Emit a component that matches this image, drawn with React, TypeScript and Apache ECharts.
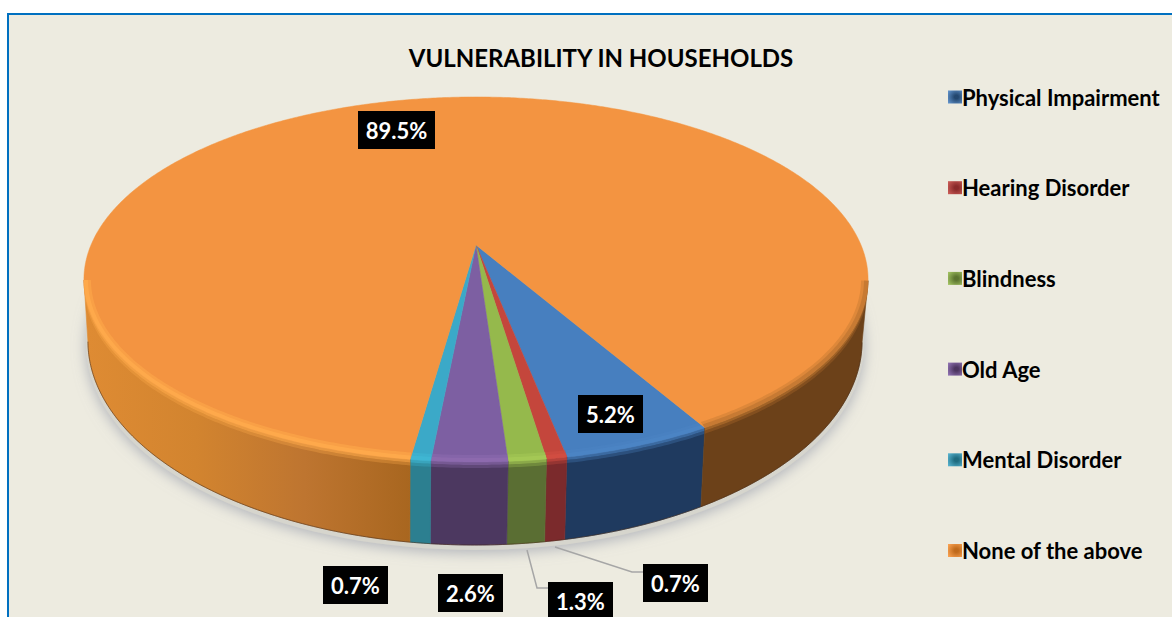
import React, { useEffect, useRef } from "react";
import * as echarts from "echarts";

const titleText = "VULNERABILITY IN HOUSEHOLDS";
const categories = ["Physical Impairment", "Hearing Disorder", "Blindness", "Old Age", "Mental Disorder", "None of the above"];
const shares = [5.2, 0.7, 1.3, 2.6, 0.7, 89.5];

const topColors = ["#477FBF", "#C4463C", "#95B94C", "#7D5FA2", "#3BA9C8", "#F39441"];
const rimColors = ["#4C84C4", "#D24E42", "#A6C956", "#8E6CAF", "#40B8D4", "#FFAB4C"];
const rimRight = "#B8722E";
const sideColors = ["#1F3A5F", "#7B2A2C", "#5A6E33", "#4C3860", "#2C7F90", "#6C4119"];
const sideLeftStops = ["#DE8B33", "#D2842F", "#BE7530", "#A8661F"];
const legendEdge = ["#5F90C8", "#C85A55", "#A0C060", "#8E70B0", "#55B0CC", "#F8A050"];
const legendCore = ["#23476F", "#8A2A2A", "#5C7430", "#4C3560", "#1F6C80", "#C06A1C"];

const APEX = { x: 476, y: 245 };
const TOP = { cx: 476, cy: 279.5, rx: 392, ry: 182.5 };
const BOTTOM = { cx: 475, cy: 341, rx: 387, ry: 204 };
const PERSPECTIVE = { k: 0.189, a: 176, b: 385 };
const START_DEG = 29.8;

const labelBoxes = [
  { x: 578, y: 395, w: 65, h: 38 },
  { x: 643, y: 564, w: 65, h: 38 },
  { x: 548, y: 582, w: 65, h: 38 },
  { x: 438, y: 574, w: 65, h: 38 },
  { x: 323, y: 566, w: 65, h: 38 },
  { x: 358, y: 111, w: 77, h: 38 },
];
const leaders: (number[][] | null)[] = [
  null,
  [[555, 547], [632, 572], [643, 572]],
  [[527, 550], [537, 588], [548, 588]],
  null,
  null,
  null,
];

const FONT = "Lato, 'Open Sans', sans-serif";

function rimPoint(deg: number) {
  const t = (deg * Math.PI) / 180;
  const { k, a, b } = PERSPECTIVE;
  const d = 1 - k * Math.cos(t);
  return { x: APEX.x + (b * Math.sin(t)) / d, y: APEX.y + (a * Math.cos(t)) / d };
}
function phiOf(p: { x: number; y: number }) {
  return { s: (p.x - TOP.cx) / TOP.rx, c: (p.y - TOP.cy) / TOP.ry };
}
function inset(p: { x: number; y: number }, w: number): number[] {
  const { s, c } = phiOf(p);
  return [TOP.cx + (TOP.rx - w) * s, TOP.cy + (TOP.ry - w) * c];
}
function bottomOf(p: { x: number; y: number }): number[] {
  const { s, c } = phiOf(p);
  return [BOTTOM.cx + BOTTOM.rx * s, BOTTOM.cy + BOTTOM.ry * c];
}
function sample(from: number, to: number) {
  const n = Math.max(4, Math.ceil(Math.abs(to - from) / 0.5));
  const pts = [];
  for (let i = 0; i <= n; i++) pts.push(rimPoint(from + ((to - from) * i) / n));
  return pts;
}
function frontRuns(pts: { x: number; y: number }[]) {
  const runs: { x: number; y: number }[][] = [];
  let cur: { x: number; y: number }[] = [];
  pts.forEach((p) => {
    if (phiOf(p).c >= 0) cur.push(p);
    else if (cur.length) {
      runs.push(cur);
      cur = [];
    }
  });
  if (cur.length) runs.push(cur);
  return runs;
}

function makeRenderItem(index: number) {
  return (_params: any, api: any) => {
    const value = api.value(0);
    const before = shares.slice(0, index).reduce((a, b) => a + b, 0);
    const from = START_DEG - before * 3.6;
    const to = from - value * 3.6;
    const rim = sample(from, to);
    const children: any[] = [];

    frontRuns(rim).forEach((run) => {
      const isRight = phiOf(run[0]).s > 0.3;
      const isOrange = index === 5;
      const bottom = run.map(bottomOf);
      let fill: any = sideColors[index];
      if (isOrange && !isRight) {
        fill = {
          type: "linear",
          x: 88,
          y: 0,
          x2: 412,
          y2: 0,
          global: true,
          colorStops: sideLeftStops.map((color, i) => ({ offset: i / (sideLeftStops.length - 1), color })),
        };
      }
      children.push({
        type: "polygon",
        shape: { points: [...run.map((p) => [p.x, p.y]), ...bottom.slice().reverse()] },
        style: { fill, stroke: fill, lineWidth: 0.6 },
      });
      children.push({
        type: "polyline",
        shape: { points: bottom },
        style: { fill: "none", stroke: "rgba(70,40,20,0.55)", lineWidth: 1 },
      });
    });

    children.push({
      type: "polygon",
      shape: { points: [[APEX.x, APEX.y], ...rim.map((p) => [p.x, p.y])] },
      style: { fill: topColors[index], stroke: topColors[index], lineWidth: 0.5 },
    });

    frontRuns(rim).forEach((run) => {
      const right = index === 5 && phiOf(run[0]).s > 0.3;
      const soft = right ? rimRight : rimColors[index];
      const band = (w1: number, w2: number, color: string, opacity: number) => ({
        type: "polygon",
        shape: { points: [...run.map((p) => inset(p, w1)), ...run.slice().reverse().map((p) => inset(p, w2))] },
        style: { fill: color, opacity },
      });
      const drop = (d1: number, d2: number, color: string, opacity: number) => ({
        type: "polygon",
        shape: {
          points: [
            ...run.map((p) => [p.x, p.y + d1]),
            ...run.slice().reverse().map((p) => [p.x, p.y + d2]),
          ],
        },
        style: { fill: color, opacity },
      });
      children.push(band(7, 0, soft, right ? 0.35 : 0.5));
      children.push(band(4, 0, soft, right ? 0.6 : 0.8));
      children.push(drop(0, 3, soft, right ? 0.7 : 0.65));
      children.push(drop(3, 6, soft, 0.3));
    });

    const box = labelBoxes[index];
    const leader = leaders[index];
    if (leader) {
      children.push({
        type: "polyline",
        shape: { points: leader },
        style: { fill: "none", stroke: "#A6A6A6", lineWidth: 1.5 },
      });
    }
    children.push({
      type: "rect",
      shape: { x: box.x, y: box.y, width: box.w, height: box.h },
      style: { fill: "#000" },
    });
    children.push({
      type: "text",
      style: {
        x: box.x + box.w / 2,
        y: box.y + box.h / 2,
        text: `${value.toFixed(1)}%`,
        fill: "#fff",
        font: `bold 22px ${FONT}`,
        align: "center",
        verticalAlign: "middle",
      },
    });
    return { type: "group", children };
  };
}

export default function App() {
  const ref = useRef<HTMLDivElement>(null);
  useEffect(() => {
    const chart = echarts.init(ref.current!, null, { renderer: "svg" });
    chart.setOption({
      animation: false,
      backgroundColor: "#ffffff",
      title: {
        text: titleText,
        left: 596,
        top: 40,
        textAlign: "center",
        textStyle: { fontFamily: FONT, fontWeight: "bold", fontSize: 24, color: "#000" },
      },
      legend: {
        orient: "vertical",
        left: 943,
        top: 81,
        itemWidth: 14,
        itemHeight: 13,
        itemGap: 68.7,
        icon: "rect",
        selectedMode: false,
        textStyle: { fontFamily: FONT, fontWeight: "bold", fontSize: 22, color: "#000", padding: [0, 0, 0, -5] },
        data: categories.map((name, i) => ({
          name,
          itemStyle: {
            color: {
              type: "radial",
              x: 0.6,
              y: 0.5,
              r: 0.7,
              colorStops: [
                { offset: 0.2, color: legendCore[i] },
                { offset: 1, color: legendEdge[i] },
              ],
            },
          },
        })),
      },
      graphic: [
        {
          type: "rect",
          z: 0,
          shape: { x: 8, y: 14, width: 1180, height: 620 },
          style: { fill: "#EDEBE0", stroke: "#0070C0", lineWidth: 2 },
        },
        {
          type: "ellipse",
          z: 1,
          shape: { cx: BOTTOM.cx, cy: BOTTOM.cy + 3, rx: BOTTOM.rx + 2, ry: BOTTOM.ry + 2 },
          style: { fill: "#D6D5CD", shadowBlur: 14, shadowColor: "rgba(150,155,170,0.7)", shadowOffsetY: 3 },
        },
      ],
      series: categories.map((name, i) => ({
        type: "custom",
        name,
        coordinateSystem: "none",
        z: 2,
        itemStyle: { color: topColors[i] },
        data: [shares[i]],
        renderItem: makeRenderItem(i),
      })),
    });
    return () => chart.dispose();
  }, []);
  return <div ref={ref} style={{ position: "absolute", left: 0, top: 0, width: 1172, height: 617 }} />;
}
